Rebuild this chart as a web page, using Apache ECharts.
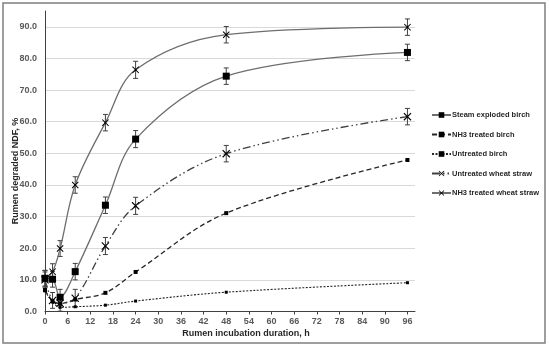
<!DOCTYPE html>
<html><head><meta charset="utf-8">
<script src="https://cdn.jsdelivr.net/npm/echarts@6/dist/echarts.min.js"></script>
<style>html,body{margin:0;padding:0;background:#fff}#c{width:550px;height:347px}</style>
</head><body><div id="c"></div>
<script>
var hours = [0, 2, 4, 8, 16, 24, 48, 96];
var xTicks = [0,6,12,18,24,30,36,42,48,54,60,66,72,78,84,90,96];
var yTicks = [0,10,20,30,40,50,60,70,80,90];
var names = ['Steam exploded birch','NH3 treated birch','Untreated birch','Untreated wheat straw','NH3 treated wheat straw'];
var steamBirch   = [10.5, 10.2, 4.5, 12.6, 33.6, 54.5, 74.4, 81.9];
var nh3Birch     = [6.8, 3.3, 2.5, 3.8, 5.9, 12.5, 31.1, 47.9];
var untrBirch    = [6.5, 3.0, 1.3, 1.5, 2.0, 3.3, 6.1, 9.1];
var untrWheat    = [10.0, 3.5, 2.6, 4.2, 20.7, 33.4, 49.9, 61.6];
var nh3Wheat     = [10.5, 12.6, 19.9, 40.0, 59.7, 76.4, 87.5, 89.9];
var steamErr     = [2.5, 2.5, 2.5, 2.6, 2.6, 2.7, 2.6, 2.6];
var untrWheatErr = [2.5, 2.5, 2.5, 2.8, 2.7, 2.7, 2.6, 2.6];
var nh3WheatErr  = [2.5, 2.5, 2.5, 2.6, 2.6, 2.7, 2.6, 2.6];

function pts(v){ return hours.map(function(h,i){ return [h, v[i]]; }); }
function errPts(v,e){ return hours.map(function(h,i){ return [h, v[i]-e[i], v[i]+e[i]]; }); }

var xPath = 'path://M0,1L1,0L5,4L9,0L10,1L6,5L10,9L9,10L5,6L1,10L0,9L4,5Z';
var starPath = 'path://M0,1L1,0L5,4L9,0L10,1L6,5L10,9L9,10L5,6L1,10L0,9L4,5ZM3.5,3.5L6.5,3.5L6.5,6.5L3.5,6.5Z';

function errSeries(v,e){
  return {
    type:'custom', silent:true, z:1,
    data: errPts(v,e),
    renderItem: function(params, api){
      var x = api.value(0);
      var lo = api.coord([x, api.value(1)]);
      var hi = api.coord([x, api.value(2)]);
      var w = 2.5;
      var st = {stroke:'#404040', lineWidth:1};
      return {type:'group', children:[
        {type:'line', shape:{x1:lo[0],y1:lo[1],x2:hi[0],y2:hi[1]}, style:st},
        {type:'line', shape:{x1:lo[0]-w,y1:lo[1],x2:lo[0]+w,y2:lo[1]}, style:st},
        {type:'line', shape:{x1:hi[0]-w,y1:hi[1],x2:hi[0]+w,y2:hi[1]}, style:st}
      ]};
    }
  };
}

var splitColors = yTicks.map(function(){return '#d9d9d9';}).concat(['rgba(0,0,0,0)']);
var lblStyle = {fontFamily:'Liberation Sans', fontWeight:'bold', fontSize:9, color:'#595959'};

var option = {
  animation:false,
  backgroundColor:'#fff',
  grid:{left:45, right:135, top:11, bottom:35.5, containLabel:false},
  xAxis:{type:'value', min:0, max:98, interval:6,
    axisLine:{show:true, lineStyle:{color:'#404040', width:1}},
    axisTick:{show:true, length:3, customValues:xTicks, lineStyle:{color:'#404040'}},
    axisLabel:Object.assign({customValues:xTicks, margin:6}, lblStyle),
    splitLine:{show:false}},
  yAxis:{type:'value', min:0, max:95, interval:10,
    axisLine:{show:true, lineStyle:{color:'#404040', width:1}},
    axisTick:{show:false},
    axisLabel:Object.assign({customValues:yTicks, margin:8, formatter:function(v){return v.toFixed(1);}}, lblStyle),
    splitLine:{show:true, lineStyle:{color:splitColors, width:1}}},
  legend:{orient:'vertical', left:431, top:111, padding:0, itemWidth:19, itemHeight:7, itemGap:11.5,
    data:names,
    textStyle:{fontFamily:'Liberation Sans', fontWeight:'bold', fontSize:7.5, lineHeight:8, color:'#262626', padding:[0,0,0,-4]}},
  graphic:[
    {type:'rect', shape:{x:3,y:3,width:542,height:340}, style:{fill:'none', stroke:'#7f7f7f', lineWidth:1.5}, z:100},
    {type:'text', x:16, y:171, rotation:Math.PI/2, style:{text:'Rumen degraded NDF, %', font:'bold 9px "Liberation Sans"', fill:'#262626', textAlign:'center', textVerticalAlign:'middle'}},
    {type:'text', x:246, y:334, style:{text:'Rumen incubation duration, h', font:'bold 9px "Liberation Sans"', fill:'#262626', textAlign:'center', textVerticalAlign:'middle'}}
  ],
  series:[
    {name:names[0], type:'line', smooth:0.35, data:pts(steamBirch), z:3,
      symbol:'rect', symbolSize:7, showAllSymbol:true,
      lineStyle:{color:'#6e6e6e', width:1.3, type:'solid'},
      itemStyle:{color:'#000'}},
    {name:names[1], type:'line', smooth:0.35, data:pts(nh3Birch), z:3,
      symbol:'rect', symbolSize:4,
      lineStyle:{color:'#262626', width:1.3, type:[5,3]},
      itemStyle:{color:'#000'}},
    {name:names[2], type:'line', smooth:0.35, data:pts(untrBirch), z:3,
      symbol:'rect', symbolSize:3,
      lineStyle:{color:'#262626', width:1.1, type:[2,1.5]},
      itemStyle:{color:'#000'}},
    {name:names[3], type:'line', smooth:0.35, data:pts(untrWheat), z:3,
      symbol:xPath, symbolSize:8,
      lineStyle:{color:'#404040', width:1.3, type:[8,3,1.5,3,1.5,3]},
      itemStyle:{color:'#000'}},
    {name:names[4], type:'line', smooth:0.35, data:pts(nh3Wheat), z:3,
      symbol:starPath, symbolSize:7,
      lineStyle:{color:'#6e6e6e', width:1.3, type:'solid'},
      itemStyle:{color:'#000'}},
    errSeries(steamBirch, steamErr),
    errSeries(untrWheat, untrWheatErr),
    errSeries(nh3Wheat, nh3WheatErr)
  ]
};
var chart = echarts.init(document.getElementById('c'), null, {renderer:'canvas'});
chart.setOption(option);
</script></body></html>
